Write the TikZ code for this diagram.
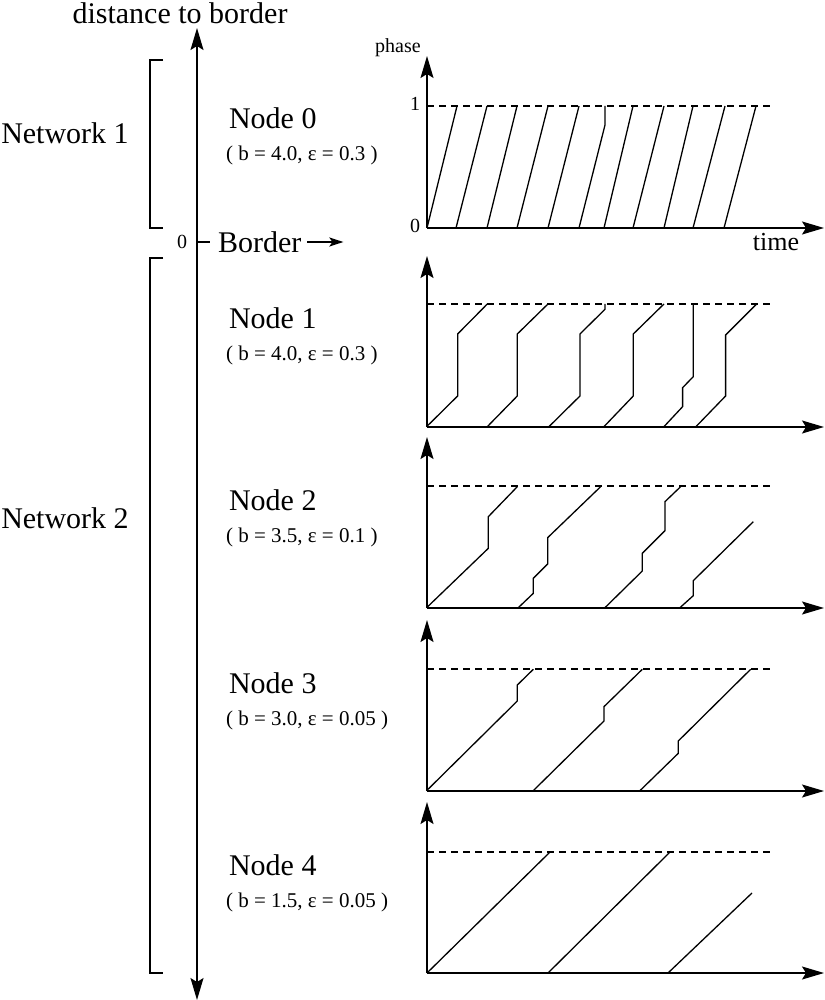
\documentclass[tikz,border=0pt]{standalone}
\usepackage{fontspec}
\setmainfont{Liberation Serif}
\usetikzlibrary{arrows.meta}
\begin{document}
\begin{tikzpicture}[x=1pt,y=-1pt,line width=1.4pt,
  ax/.style={-{Stealth[length=22pt,width=13pt,inset=4pt]}},
  dsh/.style={dash pattern=on 7pt off 5pt,line width=1.2pt},
  tr/.style={line width=1.3pt},
  big/.style={font=\fontsize{30}{32}\selectfont},
  par/.style={font=\fontsize{21}{23}\selectfont},
  sm/.style={font=\fontsize{20}{22}\selectfont}]
\useasboundingbox (0,0) rectangle (824,1000);
% left axis
\coordinate (vb) at (197,1000);
\coordinate (vt) at (197,28);
\draw[{Stealth[length=22pt,width=13pt,inset=4pt]}-{Stealth[length=22pt,width=13pt,inset=4pt]}] (vb) -- (vt);
\node[big] (dist) at (180,13) {distance to border};
\draw (163,60) -- (150,60) -- (150,228) -- (163,228);
\draw (163,258) -- (150,258) -- (150,973) -- (163,973);
\node[big] (n1) at (65,133) {Network 1};
\node[big] (n2) at (65,518) {Network 2};
\node[sm] (zero) at (182,242) {0};
\draw (197,242) -- (210,242);
\node[big,anchor=west] (border) at (214,242) {Border};
\draw[-{Stealth[length=14pt,width=9pt,inset=3pt]}] (border.east) ++(2,0) -- ++(36,0);
% node labels
\foreach \i/\y/\t in {0/118/{( b = 4.0, ε = 0.3 )},1/318/{( b = 4.0, ε = 0.3 )},2/500/{( b = 3.5, ε = 0.1 )},3/683/{( b = 3.0, ε = 0.05 )},4/865/{( b = 1.5, ε = 0.05 )}}{
  \node[big,anchor=west] (nd\i) at (225,\y) {Node \i};
  \node[par,anchor=west] (pp\i) at (222,\y+37) {\t};
}
% axes
\foreach \b/\d/\t in {228/106/56, 427/304/256, 608/486/437, 791/669/620, 973/852/802}{
  \draw[ax] (427,\b) -- (824,\b);
  \draw[ax] (427,\b) -- (427,\t);
  \draw[dsh] (427,\d) -- (772,\d);
}
\node[sm] (ph) at (398,48) {phase};
\node[sm] (one) at (415,104) {1};
\node[sm] (z0) at (415,226) {0};
\node[font=\fontsize{26}{28}\selectfont] (time) at (776,242) {time};
% plot 0
\foreach \a/\c in {427/457,456/487,487/517,517/548,548/579,604/633,633/664,664/693,693/725,724/756}{
  \draw[tr] (\a,228) -- (\c,106);
}
\draw[tr] (579,228) -- (605,125) -- (605,106);
% plot 1
\begin{scope}[shift={(410,40)},x=0.3333pt,y=-0.3333pt]
\draw[tr] (50,1160)--(143,1068)--(143,882)--(232,792);
\draw[tr] (232,1160)--(322,1068)--(322,882)--(414,792);
\draw[tr] (417,1160)--(510,1068)--(510,882)--(585,808)--(585,792);
\draw[tr] (582,1160)--(670,1068)--(670,882)--(762,792);
\draw[tr] (762,1160)--(818,1100)--(818,1043)--(850,1010)--(850,792);
\draw[tr] (858,1160)--(947,1068)--(947,885)--(1040,792);
\end{scope}
% plots 2,3
\begin{scope}[shift={(410,440)},x=0.3333pt,y=-0.3333pt]
\draw[tr] (50,503)--(235,325)--(235,230)--(322,140);
\draw[tr] (325,503)--(370,460)--(370,415)--(413,372)--(413,293)--(572,140);
\draw[tr] (585,503)--(697,393)--(697,340)--(765,272)--(765,185)--(812,140);
\draw[tr] (810,503)--(850,467)--(850,422)--(1030,245);
\draw[tr] (50,1052)--(322,783)--(322,735)--(370,688);
\draw[tr] (370,1052)--(582,843)--(582,800)--(697,688);
\draw[tr] (690,1052)--(805,940)--(805,903)--(1022,688);
\end{scope}
% plot 4
\draw[tr] (427,973) -- (550,852);
\draw[tr] (548,973) -- (670,852);
\draw[tr] (668,973) -- (752,893);
\end{tikzpicture}
\end{document}
